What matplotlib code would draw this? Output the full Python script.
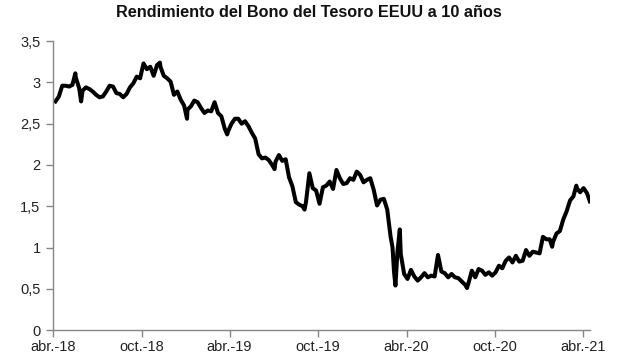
import matplotlib
matplotlib.use("Agg")
import matplotlib.pyplot as plt
import matplotlib.dates as mdates
import pandas as pd
import numpy as np

plt.rcParams['font.family'] = ['Liberation Sans', 'DejaVu Sans']

title = "Rendimiento del Bono del Tesoro EEUU a 10 años"

# Weekly readings (Fridays, from 2018-04-06)
weekly_start = "2018-04-06"
weekly_values = [
    # 2018
    2.77, 2.83, 2.96, 2.96, 2.95, 2.97, 3.06, 2.93, 2.90, 2.94, 2.92, 2.89, 2.85,
    2.82, 2.83, 2.89, 2.96, 2.95, 2.87, 2.86, 2.82, 2.86, 2.94, 2.99, 3.07, 3.05,
    3.23, 3.16, 3.19, 3.08, 3.21, 3.19, 3.08, 3.05, 3.01, 2.85, 2.89, 2.79, 2.72,
    # 2019
    2.67, 2.71, 2.78, 2.76, 2.69, 2.63, 2.66, 2.65, 2.76, 2.63, 2.59, 2.44, 2.41,
    2.50, 2.56, 2.56, 2.50, 2.53, 2.47, 2.39, 2.32, 2.13, 2.08, 2.09, 2.06, 2.00,
    2.04, 2.12, 2.05, 2.07, 1.85, 1.74, 1.55, 1.52, 1.50, 1.55, 1.90, 1.72, 1.69,
    1.53, 1.73, 1.75, 1.80, 1.71, 1.94, 1.84, 1.77, 1.78, 1.84, 1.82, 1.92, 1.88,
    # 2020
    1.79, 1.82, 1.84, 1.70, 1.51, 1.58, 1.59, 1.46, 1.13, 0.71, 0.94, 0.92, 0.68,
    0.62, 0.73, 0.65, 0.60, 0.64, 0.69, 0.64, 0.66, 0.65, 0.91, 0.71, 0.69, 0.64,
    0.68, 0.64, 0.63, 0.59, 0.55, 0.57, 0.72, 0.64, 0.74, 0.72, 0.67, 0.70, 0.66,
    0.70, 0.78, 0.75, 0.84, 0.88, 0.82, 0.90, 0.83, 0.84, 0.97, 0.90, 0.95, 0.94,
    # 2021
    0.93, 1.13, 1.10, 1.10, 1.07, 1.17, 1.20, 1.34, 1.44, 1.57, 1.62, 1.72, 1.67,
    1.72, 1.66, 1.58,
]

# Intra-week extremes visible in the chart
spike_dates = ["2018-05-17", "2018-05-29", "2018-11-08", "2019-01-03", "2019-03-27",
               "2019-07-03", "2019-09-03", "2020-03-03", "2020-03-09", "2020-03-18",
               "2020-08-04", "2021-01-27", "2021-03-18", "2021-04-15"]
spike_values = [3.11, 2.77, 3.24, 2.56, 2.37,
                1.95, 1.46, 1.00, 0.54, 1.22,
                0.51, 1.01, 1.75, 1.56]

y_ticks = [0, 0.5, 1, 1.5, 2, 2.5, 3, 3.5]
x_tick_dates = ["2018-04-01", "2018-10-01", "2019-04-01", "2019-10-01",
                "2020-04-01", "2020-10-01", "2021-04-01"]
x_tick_labels = ["abr.-18", "oct.-18", "abr.-19", "oct.-19", "abr.-20", "oct.-20", "abr.-21"]

weekly = pd.Series(weekly_values,
                   index=pd.date_range(weekly_start, periods=len(weekly_values), freq="W-FRI"))
spikes = pd.Series(spike_values, index=pd.to_datetime(spike_dates))
series = pd.concat([weekly, spikes]).sort_index()
series = series[series.index <= pd.Timestamp("2021-04-15")]

fig = plt.figure(figsize=(6.17, 3.64), dpi=100)
ax = fig.add_axes([0.086, 0.093, 0.870, 0.794])

ax.plot(series.index, series.values, color="black", linewidth=2.9, solid_joinstyle="round")

ax.set_ylim(0, 3.5)
ax.set_yticks(y_ticks)
ax.set_yticklabels([f"{v:g}".replace(".", ",") for v in y_ticks])
ax.set_xlim(pd.Timestamp("2018-04-01"), pd.Timestamp("2021-04-15"))
ax.set_xticks(pd.to_datetime(x_tick_dates))
ax.set_xticklabels(x_tick_labels)

for s in ["top", "right"]:
    ax.spines[s].set_visible(False)
for s in ["left", "bottom"]:
    ax.spines[s].set_color("#868686")
    ax.spines[s].set_linewidth(1.0)
ax.tick_params(axis="both", colors="#868686", labelcolor="#222222", labelsize=10.5,
               length=5, width=1.0, direction="out")
ax.tick_params(axis="y", pad=4)
ax.tick_params(axis="x", pad=2)

fig.suptitle(title, x=0.5, y=0.985, fontsize=11.7, fontweight="bold", color="#111111")

fig.savefig("out.png", dpi=100)
